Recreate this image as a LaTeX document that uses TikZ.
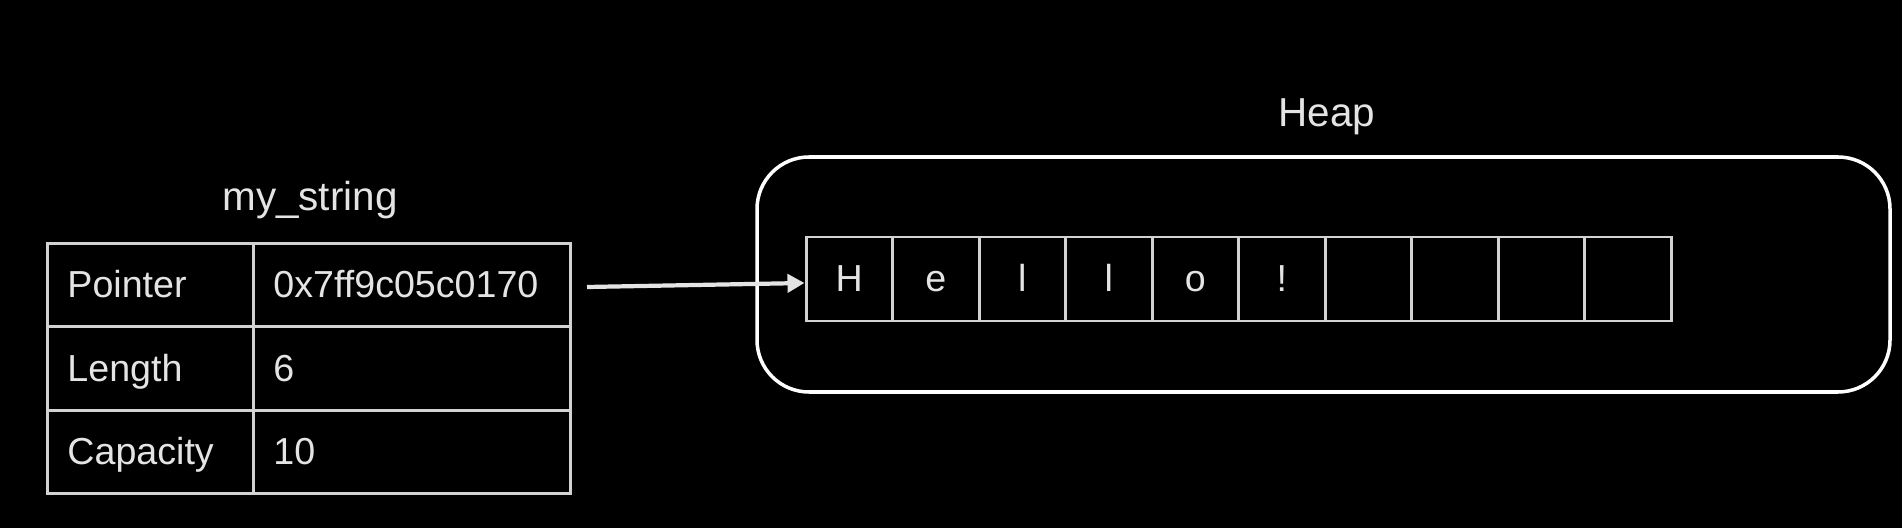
\documentclass[tikz,border=0pt]{standalone}
\usepackage{fontspec}
\setmainfont{Liberation Sans}
\usetikzlibrary{arrows.meta}
\definecolor{fg}{HTML}{E4E4E4}
\definecolor{linegray}{HTML}{D2D2D2}
\begin{document}
\begin{tikzpicture}[
  every node/.style={text=fg},
  tfont/.style={font=\fontsize{10.7}{12}\selectfont},
  titlefont/.style={font=\fontsize{11.5}{13}\selectfont},
  tcell/.style={tfont, draw=linegray, line width=0.85pt, anchor=north west, align=left,
    inner xsep=0.2cm, inner ysep=0pt, minimum height=0.833cm,
    text height=0.716em, text depth=0pt},
  keycell/.style={tcell, text width=1.66cm},
  valcell/.style={tcell, text width=2.77cm},
  acell/.style={tfont, draw=linegray, line width=0.85pt, minimum width=0.865cm, minimum height=0.84cm,
    inner sep=0pt, text height=0.716em, text depth=0pt},
  heapbox/.style={draw=white, line width=1pt, rounded corners=0.52cm, minimum width=11.33cm, minimum height=2.35cm},
  ptr/.style={draw=fg, line width=1.2pt, -{Triangle[length=0.17cm, width=0.18cm]}}
]
\fill[black] (0,0) rectangle (19.02,5.28);
\useasboundingbox (0,0) rectangle (19.02,5.28);

% heap container
\node[heapbox] (heap) at (13.235,2.535) {};
\node[titlefont] (heaplbl) at (13.27,4.11) {Heap};

% struct table
\node[titlefont] (title) at (3.10,3.28) {my\_string};
\node[keycell] (k1) at (0.46,2.86) {Pointer};
\node[valcell] (v1) at (2.52,2.86) {0x7ff9c05c0170};
\node[keycell] (k2) at (0.46,2.027) {Length};
\node[valcell] (v2) at (2.52,2.027) {6};
\node[keycell] (k3) at (0.46,1.193) {Capacity};
\node[valcell] (v3) at (2.52,1.193) {10};

% heap array
\foreach \i/\ch in {1/H,2/e,3/l,4/l,5/o,6/!,7/,8/,9/,10/} {
  \node[acell] (c\i) at ({8.06+0.865*(\i-0.5)},2.49) {\ch};
}

% pointer arrow
\coordinate (pstart) at (5.87,2.41);
\draw[ptr] (pstart) -- ([yshift=-0.04cm]c1.west);
\end{tikzpicture}
\end{document}
